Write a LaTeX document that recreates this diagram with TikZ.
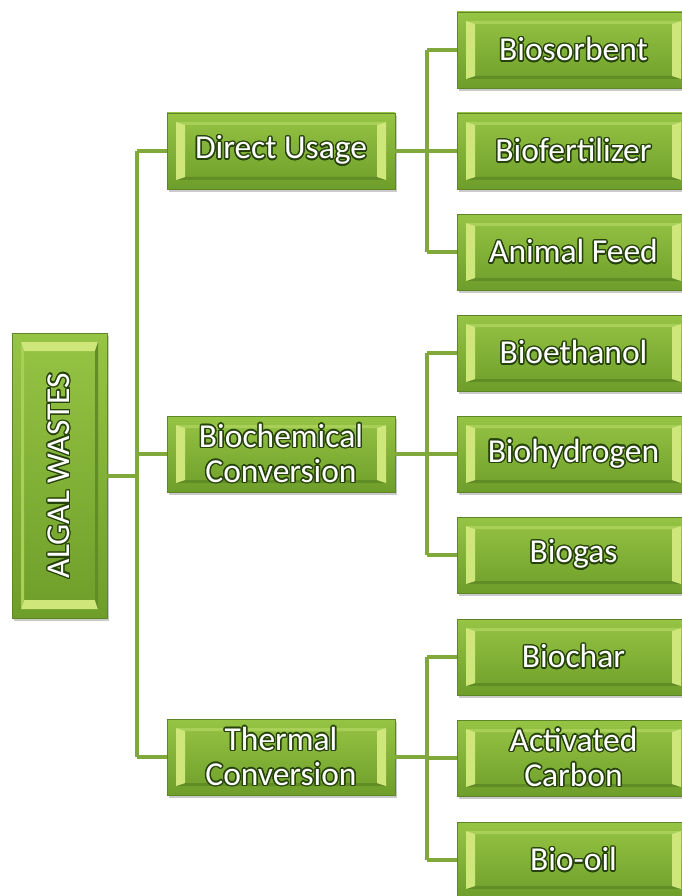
\documentclass[tikz,border=0pt]{standalone}
\usepackage{fontspec}
\setmainfont{Carlito}
\usepackage{contour}
\contourlength{1.4pt}
\usetikzlibrary{shadows}

\definecolor{faceTop}{RGB}{150,196,68}
\definecolor{faceBot}{RGB}{110,158,42}
\definecolor{edgeLine}{RGB}{96,132,40}
\definecolor{facetLight}{RGB}{206,230,122}
\definecolor{facetTop}{RGB}{168,208,88}
\definecolor{facetDark}{RGB}{98,140,38}
\definecolor{glow}{RGB}{38,66,12}
\definecolor{linkGreen}{RGB}{128,168,58}

% white lettering with a dark green halo
\newcommand{\gtext}[1]{\contour{glow}{#1}}

\tikzset{
  facetN/.store in=\facetN, facetS/.store in=\facetS,
  facetW/.store in=\facetW, facetE/.store in=\facetE,
  % #1,#2 size; #3,#4 facet depth (horizontal, vertical); facets sit 9pt inside the edge
  bevelbox/.style n args={4}{
    draw=edgeLine, line width=0.8pt,
    top color=faceTop, bottom color=faceBot,
    minimum width=#1, minimum height=#2, inner sep=0pt,
    text=white, align=center,
    font=\fontsize{33.5}{35}\selectfont,
    drop shadow={shadow xshift=2pt, shadow yshift=-3pt, opacity=0.35, fill=black!60},
    path picture={
      \coordinate (pA) at ([shift={(9pt,-9pt)}]path picture bounding box.north west);
      \coordinate (pB) at ([shift={(-9pt,-9pt)}]path picture bounding box.north east);
      \coordinate (pC) at ([shift={(-9pt,9pt)}]path picture bounding box.south east);
      \coordinate (pD) at ([shift={(9pt,9pt)}]path picture bounding box.south west);
      \coordinate (qA) at ([shift={(#3,-#4)}]pA);
      \coordinate (qB) at ([shift={(-#3,-#4)}]pB);
      \coordinate (qC) at ([shift={(-#3,#4)}]pC);
      \coordinate (qD) at ([shift={(#3,#4)}]pD);
      \fill[\facetN] (pA) -- (pB) -- (qB) -- (qA) -- cycle;
      \fill[\facetS] (pD) -- (pC) -- (qC) -- (qD) -- cycle;
      \fill[\facetW] (pA) -- (qA) -- (qD) -- (pD) -- cycle;
      \fill[\facetE] (pB) -- (qB) -- (qC) -- (pC) -- cycle;
    }
  },
  hbox/.style 2 args={bevelbox={#1}{#2}{9pt}{3pt},
    facetN=facetTop, facetS=facetDark, facetW=facetLight, facetE=facetLight},
  vbox/.style 2 args={bevelbox={#1}{#2}{3pt}{9pt},
    facetN=facetLight, facetS=facetLight, facetW=facetTop, facetE=facetDark},
  conn/.style={draw=linkGreen, line width=4pt},
}

\begin{document}
\begin{tikzpicture}[x=1pt, y=-1pt]
  \useasboundingbox (0,0) rectangle (682,896);
  \clip (0,0) rectangle (682,896);

  % root
  \node[vbox={95pt}{285pt}] (algal) at (59.5,475.5)
    {\rotatebox{90}{\gtext{ALGAL WASTES}}};

  % second level
  \node[hbox={228pt}{76pt}] (du) at (281,151) {\gtext{Direct Usage}};
  \node[hbox={228pt}{76pt}] (bc) at (281,454) {\gtext{Biochemical}\\\gtext{Conversion}};
  \node[hbox={228pt}{76pt}] (tc) at (281,757) {\gtext{Thermal}\\\gtext{Conversion}};

  % products
  \node[hbox={233pt}{76pt}] (l1) at (573.5,50)  {\gtext{Biosorbent}};
  \node[hbox={233pt}{76pt}] (l2) at (573.5,151) {\gtext{Biofertilizer}};
  \node[hbox={233pt}{76pt}] (l3) at (573.5,252) {\gtext{Animal Feed}};
  \node[hbox={233pt}{76pt}] (l4) at (573.5,353) {\gtext{Bioethanol}};
  \node[hbox={233pt}{76pt}] (l5) at (573.5,454) {\gtext{Biohydrogen}};
  \node[hbox={233pt}{76pt}] (l6) at (573.5,555) {\gtext{Biogas}};
  \node[hbox={233pt}{76pt}] (l7) at (573.5,657) {\gtext{Biochar}};
  \node[hbox={233pt}{76pt}] (l8) at (573.5,758) {\gtext{Activated}\\\gtext{Carbon}};
  \node[hbox={233pt}{76pt}] (l9) at (573.5,860) {\gtext{Bio-oil}};

  % connector rails
  \coordinate (trunk) at (137,0);
  \coordinate (rail) at (427,0);

  % root to second level
  \draw[conn] (algal.east) -- (algal.east -| trunk);
  \draw[conn] (trunk |- du.west) -- (trunk |- tc.west);
  \draw[conn] (trunk |- du.west) -- (du.west);
  \draw[conn] (trunk |- bc.west) -- (bc.west);
  \draw[conn] (trunk |- tc.west) -- (tc.west);

  % second level to products
  \foreach \m/\a/\b/\c in {du/l1/l2/l3, bc/l4/l5/l6, tc/l7/l8/l9}{
    \draw[conn] (\m.east) -- (\m.east -| rail);
    \draw[conn] (rail |- \a.west) -- (rail |- \c.west);
    \draw[conn] (rail |- \a.west) -- (\a.west);
    \draw[conn] (rail |- \b.west) -- (\b.west);
    \draw[conn] (rail |- \c.west) -- (\c.west);
  }
\end{tikzpicture}
\end{document}
